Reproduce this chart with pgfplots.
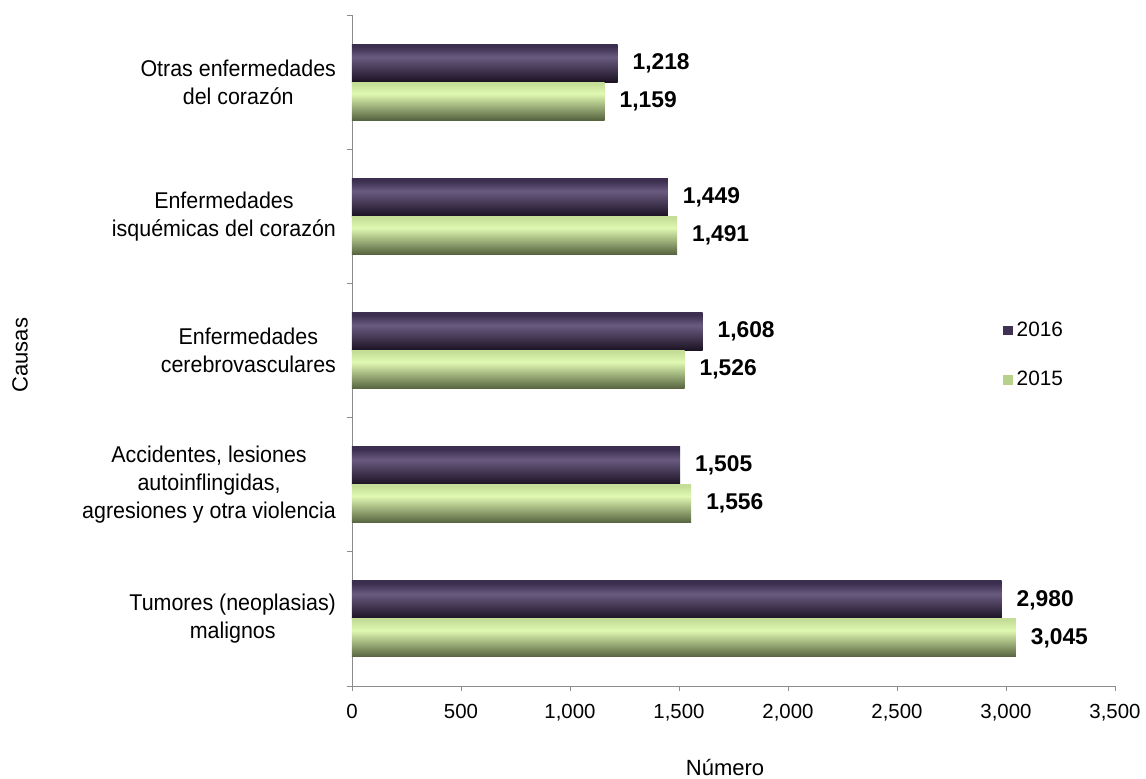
\documentclass[border=0pt]{standalone}
\usepackage{pgfplots}
\pgfplotsset{compat=1.18}
\usepackage{fontspec}
\setmainfont{Liberation Sans}
\newfontfamily\catfont{Liberation Sans}[FakeStretch=0.94]
\definecolor{pTop}{HTML}{3B2E4E}
\definecolor{pMid}{HTML}{6A5A80}
\definecolor{pBot}{HTML}{1A1222}
\definecolor{gTop}{HTML}{C4DE98}
\definecolor{gMid}{HTML}{E0F9B2}
\definecolor{gBot}{HTML}{56633F}
\definecolor{pLeg}{HTML}{3F3152}
\definecolor{gLeg}{HTML}{B6D28A}
\definecolor{axgray}{HTML}{8C8C8C}
\pgfdeclareverticalshading{purpbar}{100bp}{color(0bp)=(pBot); color(25bp)=(pBot); color(58bp)=(pMid); color(72bp)=(pTop); color(100bp)=(pTop)}
\pgfdeclareverticalshading{greenbar}{100bp}{color(0bp)=(gBot); color(25bp)=(gBot); color(60bp)=(gMid); color(73bp)=(gTop); color(100bp)=(gTop)}
\pgfplotsset{
  b16/.style={draw=none, shade, shading=purpbar, bar shift=9.5pt, forget plot},
  b15/.style={draw=none, shade, shading=greenbar, bar shift=-9.5pt, forget plot},
}
\begin{document}
\begin{tikzpicture}
\begin{axis}[
  name=ax,
  scale only axis,
  width=381.5pt, height=335.5pt,
  xbar, bar width=19pt,
  xmin=0, xmax=3500,
  ymin=-0.5, ymax=4.5,
  xtick={0,500,...,3500},
  ytick={0,1,2,3,4},
  yticklabels={{Tumores (neoplasias)\\malignos},
               {Accidentes, lesiones\\autoinflingidas,\\agresiones y otra violencia},
               {Enfermedades\\cerebrovasculares},
               {Enfermedades\\isquémicas del corazón},
               {Otras enfermedades\\del corazón}},
  minor ytick={-0.5,0.5,1.5,2.5,3.5,4.5},
  axis lines*=left,
  axis line style={draw=axgray},
  tick align=outside,
  major tick length=2.5pt,
  minor tick length=2.5pt,
  every tick/.style={draw=axgray},
  major y tick style={draw=none},
  minor y tick style={draw=axgray},
  xticklabel style={font=\fontsize{10.2}{12}\selectfont, yshift=-3pt},
  yticklabel style={font=\catfont\fontsize{11.4}{14}\selectfont, align=center, xshift=-2pt},
  /pgf/number format/1000 sep={,},
  /pgf/number format/assume math mode=true,
  scaled x ticks=false,
  xlabel={Número},
  ylabel={Causas},
  label style={font=\fontsize{11}{13}\selectfont},
  xlabel style={at={(axis description cs:0.489,-0.122)}, anchor=center},
  ylabel style={at={(axis description cs:-0.435,0.493)}, anchor=center},
  nodes near coords={\pgfmathprintnumber[1000 sep={,},assume math mode=true]{\pgfplotspointmeta}},
  nodes near coords style={font=\bfseries\fontsize{11.4}{13}\selectfont, text=black, anchor=west, xshift=4pt},
  legend style={draw=none, fill=none, at={(axis description cs:0.845,0.493)}, anchor=west,
                row sep=12pt, font=\fontsize{10.4}{12}\selectfont},
  legend cell align=left,
  clip=false,
]
\addlegendimage{legend image code/.code={\fill[pLeg] (0pt,-2.2pt) rectangle (4.4pt,2.2pt);}}
\addlegendentry{2016}
\addlegendimage{legend image code/.code={\fill[gLeg] (0pt,-2.2pt) rectangle (4.4pt,2.2pt);}}
\addlegendentry{2015}
% 2016
\addplot[b16] coordinates {(2980,0)};
\addplot[b16] coordinates {(1505,1)};
\addplot[b16] coordinates {(1608,2)};
\addplot[b16] coordinates {(1449,3)};
\addplot[b16] coordinates {(1218,4)};
% 2015
\addplot[b15] coordinates {(3045,0)};
\addplot[b15] coordinates {(1556,1)};
\addplot[b15] coordinates {(1526,2)};
\addplot[b15] coordinates {(1491,3)};
\addplot[b15] coordinates {(1159,4)};
\end{axis}
\pgfresetboundingbox
\path ([xshift=-176pt,yshift=-46.5pt]ax.south west) rectangle ([xshift=397pt,yshift=343pt]ax.south west);
\end{tikzpicture}
\end{document}
